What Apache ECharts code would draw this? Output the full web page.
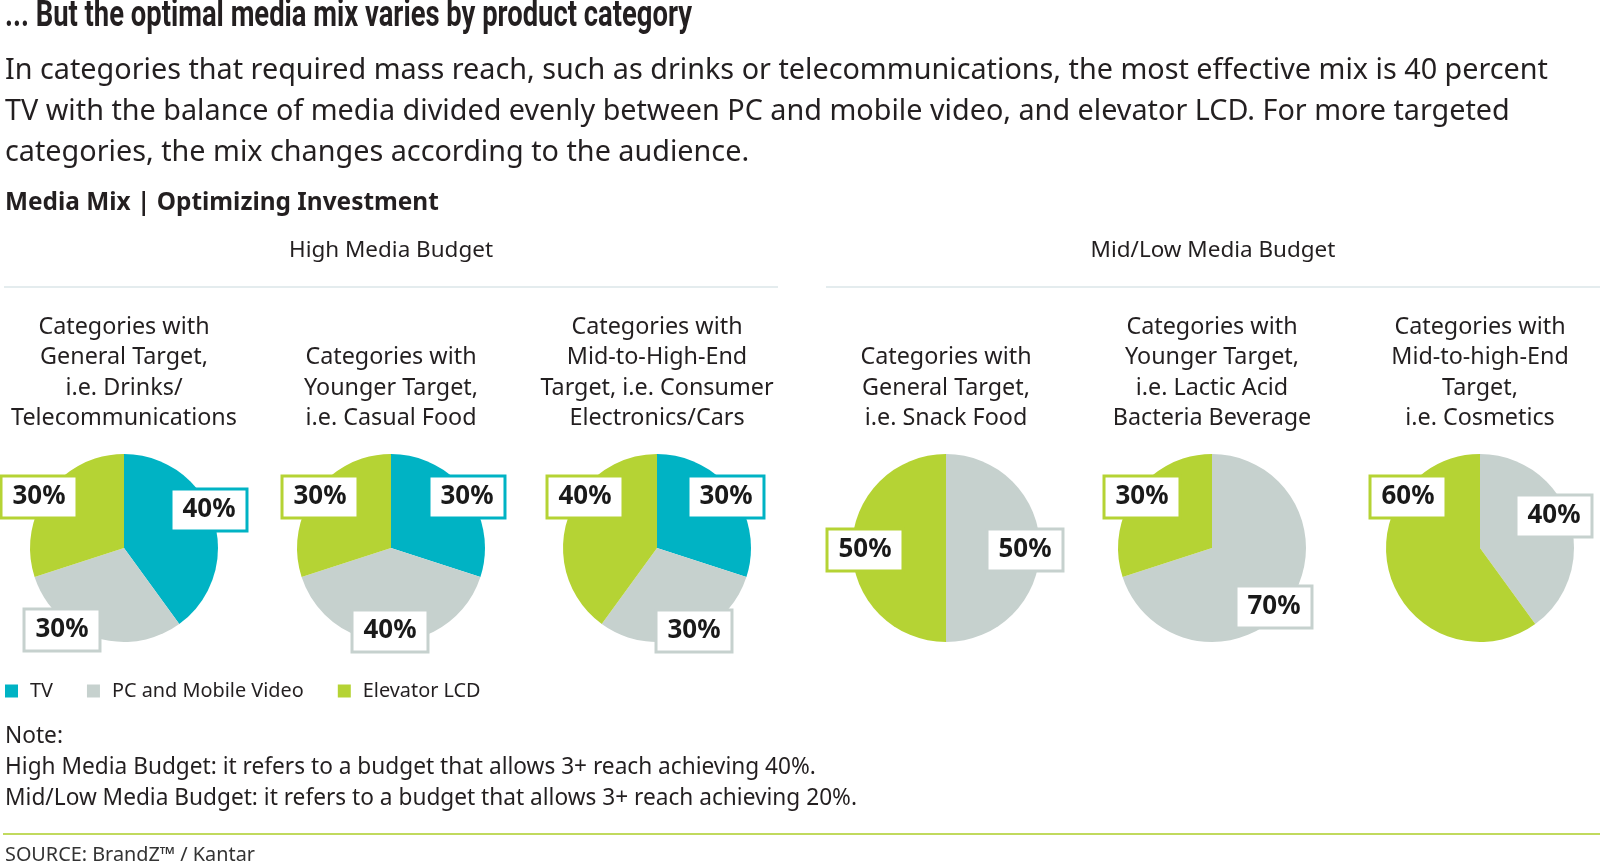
<!DOCTYPE html>
<html>
<head>
<meta charset="utf-8">
<title>Media Mix | Optimizing Investment</title>
<script src="https://cdn.jsdelivr.net/npm/echarts@6/dist/echarts.min.js"></script>
<style>
  html, body { margin: 0; padding: 0; background: #fff; }
  #chart { width: 1600px; height: 861px; }
</style>
</head>
<body>
<div id="chart"></div>
<script>
// ── data ────────────────────────────────────────────────
const SERIES_NAMES = ['TV', 'PC and Mobile Video', 'Elevator LCD'];
const BUDGETS = ['High Media Budget', 'Mid/Low Media Budget'];
const CATEGORIES = [
  'Categories with\nGeneral Target,\ni.e. Drinks/\nTelecommunications',
  'Categories with\nYounger Target,\ni.e. Casual Food',
  'Categories with\nMid-to-High-End\nTarget, i.e. Consumer\nElectronics/Cars',
  'Categories with\nGeneral Target,\ni.e. Snack Food',
  'Categories with\nYounger Target,\ni.e. Lactic Acid\nBacteria Beverage',
  'Categories with\nMid-to-high-End\nTarget,\ni.e. Cosmetics'
];
const TV_SHARE   = [40, 30, 30, 0, 0, 0];
const PC_SHARE   = [30, 40, 30, 50, 70, 40];
const ELEV_SHARE = [30, 30, 40, 50, 30, 60];

const TITLE = '... But the optimal media mix varies by product category';
const INTRO = [
  'In categories that required mass reach, such as drinks or telecommunications, the most effective mix is 40 percent',
  'TV with the balance of media divided evenly between PC and mobile video, and elevator LCD. For more targeted',
  'categories, the mix changes according to the audience.'
];
const SUBTITLE = 'Media Mix | Optimizing Investment';
const NOTES = [
  'Note:',
  'High Media Budget: it refers to a budget that allows 3+ reach achieving 40%.',
  'Mid/Low Media Budget: it refers to a budget that allows 3+ reach achieving 20%.'
];
const SOURCE = 'SOURCE: BrandZ\u2122 / Kantar';

// ── look ────────────────────────────────────────────────
const COLORS = { 'TV': '#00b3c4', 'PC and Mobile Video': '#c6d1ce', 'Elevator LCD': '#b5d334' };
const INK = '#231f20';
const BODY = '"Noto Sans", sans-serif';

// layout
const PIE_X = [124, 391, 657, 946, 1212, 1480];
const PIE_Y = 548, PIE_R = 94;
const BUDGET_X = [391, 1213];
// label box centre relative to the pie centre, per slice (TV, PC, Elevator)
const LABEL_AT = [
  [[85, -38], [-62, 82], [-85, -51]],
  [[76, -51], [-1, 83], [-71, -51]],
  [[69, -51], [37, 83], [-72, -51]],
  [null, [79, 2], [-81, 2]],
  [null, [62, 59], [-70, -51]],
  [null, [74, -32], [-72, -51]]
];

// text sizes fitted to the widths measured on the reference
const ctx = document.createElement('canvas').getContext('2d');
const widthOf = (t, w, s, f) => { ctx.font = `${w} ${s}px ${f}`; return ctx.measureText(t).width; };
const fit = (t, w, f, target) => +(100 * target / widthOf(t, w, 100, f)).toFixed(2);

const introSize = fit(INTRO[0], 400, BODY, 1544);
const noteSize  = fit(NOTES[1], 400, BODY, 811);
const subSize   = fit(SUBTITLE, 700, BODY, 434);
const catSize   = fit('Telecommunications', 400, BODY, 226);
const budSize   = fit(BUDGETS[0], 400, BODY, 204);
const legSize   = fit(SERIES_NAMES[1], 400, BODY, 192);
const srcSize   = fit(SOURCE, 400, BODY, 250);
const pctSize   = fit('40%', 700, BODY, 53);
const titleScale = 687 / widthOf(TITLE, 700, 36, 'Roboto');

const SHARES = [TV_SHARE, PC_SHARE, ELEV_SHARE];

const series = CATEGORIES.map((cat, i) => {
  const data = [], offs = [];
  SERIES_NAMES.forEach((name, k) => {
    const v = SHARES[k][i];
    if (!v) return;
    data.push({ name, value: v, itemStyle: { color: COLORS[name] }, label: { borderColor: COLORS[name] } });
    offs.push(LABEL_AT[i][k]);
  });
  return {
    type: 'pie',
    name: cat.replace(/\n/g, ' '),
    center: [PIE_X[i], PIE_Y],
    radius: PIE_R,
    startAngle: 90,
    clockwise: true,
    avoidLabelOverlap: false,
    silent: true,
    itemStyle: { borderWidth: 0 },
    emphasis: { disabled: true },
    label: {
      show: true, position: 'inside', formatter: '{c}%',
      color: '#1a1a1a', fontFamily: BODY, fontWeight: 700, fontSize: pctSize, lineHeight: 28,
      backgroundColor: '#fff', borderWidth: 3, padding: [6, 10, 5, 10]
    },
    labelLine: { show: false },
    labelLayout: p => {
      const o = offs[p.dataIndex];
      return { x: PIE_X[i] + o[0], y: PIE_Y + o[1], align: 'center', verticalAlign: 'middle' };
    },
    data
  };
});

const text = (x, y, t, font, extra) => ({
  type: 'text', x, y, silent: true, ...extra,
  style: Object.assign({ text: t, font, fill: INK, align: 'left', verticalAlign: 'middle',
    textAlign: 'left', textVerticalAlign: 'middle' }, (extra && extra.style) || {})
});
const hline = (x1, x2, y, stroke, w) => ({
  type: 'line', silent: true, shape: { x1, y1: y, x2, y2: y }, style: { stroke, lineWidth: w }
});

const graphics = [
  text(5, 17, TITLE, '700 36px Roboto', { scaleX: titleScale }),
  ...INTRO.map((l, k) => text(5, 71 + k * 41, l, `400 ${introSize}px ${BODY}`)),
  text(5, 203, SUBTITLE, `700 ${subSize}px ${BODY}`),
  ...BUDGETS.map((b, k) => text(BUDGET_X[k], 251, b, `400 ${budSize}px ${BODY}`,
    { style: { align: 'center', textAlign: 'center' } })),
  hline(4, 778, 287, '#e4ecee', 2),
  hline(826, 1600, 287, '#e4ecee', 2),
  ...CATEGORIES.map((c, i) => text(PIE_X[i], 434, c, `400 ${catSize}px ${BODY}`,
    { style: { align: 'center', textAlign: 'center', verticalAlign: 'bottom', textVerticalAlign: 'bottom', lineHeight: 30.5 } })),
  ...NOTES.map((n, k) => text(5, 737 + k * 30.6, n, `400 ${noteSize}px ${BODY}`)),
  hline(3, 1600, 834, '#c1da5e', 2),
  text(5, 855, SOURCE, `400 ${srcSize}px ${BODY}`, { style: { fill: '#333' } })
];

const chart = echarts.init(document.getElementById('chart'));
chart.setOption({
  animation: false,
  backgroundColor: '#fff',
  legend: {
    data: SERIES_NAMES, left: 5, top: 681, padding: 0, icon: 'rect',
    itemWidth: 13, itemHeight: 13, itemGap: 34, selectedMode: false,
    textStyle: { fontFamily: BODY, fontSize: legSize, color: INK, padding: [0, 0, 0, 7] }
  },
  graphic: graphics,
  series
});
</script>
</body>
</html>
